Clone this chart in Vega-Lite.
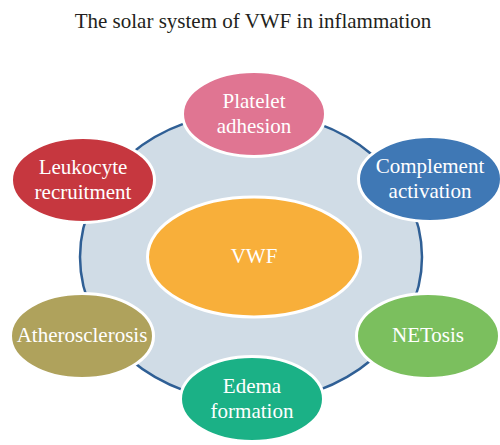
{
  "$schema": "https://vega.github.io/schema/vega-lite/v6.json",
  "width": 500,
  "height": 445,
  "autosize": {"type": "none"},
  "padding": 0,
  "background": "white",
  "config": {"view": {"stroke": null}},
  "data": {
    "values": [
      {"name": "title", "label": "The solar system of VWF in inflammation", "role": "title", "x": 253, "y": 28},
      {"name": "orbit", "label": "", "role": "orbit", "x": 251, "y": 257},
      {"name": "VWF", "label": "VWF", "role": "hub", "x": 254, "y": 257},
      {"name": "Platelet adhesion", "label": "Platelet\nadhesion", "role": "satellite", "x": 254, "y": 114},
      {"name": "Complement activation", "label": "Complement\nactivation", "role": "satellite", "x": 430, "y": 179},
      {"name": "NETosis", "label": "NETosis", "role": "satellite", "x": 428, "y": 336},
      {"name": "Edema formation", "label": "Edema\nformation", "role": "satellite", "x": 252, "y": 399},
      {"name": "Atherosclerosis", "label": "Atherosclerosis", "role": "satellite", "x": 82, "y": 336},
      {"name": "Leukocyte recruitment", "label": "Leukocyte\nrecruitment", "role": "satellite", "x": 83, "y": 180}
    ]
  },
  "encoding": {
    "x": {"field": "x", "type": "quantitative", "scale": {"domain": [0, 500], "nice": false, "zero": false}, "axis": null},
    "y": {"field": "y", "type": "quantitative", "scale": {"domain": [0, 445], "reverse": true, "nice": false, "zero": false}, "axis": null}
  },
  "layer": [
    {
      "transform": [{"filter": "datum.role === 'orbit'"}],
      "mark": {
        "type": "point",
        "shape": "M -1 0 A 1 0.848 0 1 1 1 0 A 1 0.848 0 1 1 -1 0 Z",
        "size": 116964,
        "filled": true,
        "fill": "#d0dce6",
        "stroke": "#2f5f95",
        "strokeWidth": 2.5,
        "opacity": 1,
        "fillOpacity": 1
      }
    },
    {
      "transform": [{"filter": "datum.role === 'hub'"}],
      "mark": {
        "type": "point",
        "shape": "M -1 0 A 1 0.563 0 1 1 1 0 A 1 0.563 0 1 1 -1 0 Z",
        "size": 45369,
        "filled": true,
        "stroke": "white",
        "strokeWidth": 3,
        "opacity": 1,
        "fillOpacity": 1
      },
      "encoding": {
        "color": {"field": "name", "type": "nominal", "scale": {"domain": ["VWF", "Platelet adhesion", "Complement activation", "NETosis", "Edema formation", "Atherosclerosis", "Leukocyte recruitment"], "range": ["#f8af3a", "#e07592", "#3f78b5", "#7bbf5e", "#1bb186", "#afa25c", "#c6373f"]}, "legend": null}
      }
    },
    {
      "transform": [{"filter": "datum.role === 'satellite'"}],
      "mark": {
        "type": "point",
        "shape": "M -1 0 A 1 0.594 0 1 1 1 0 A 1 0.594 0 1 1 -1 0 Z",
        "size": 20449,
        "filled": true,
        "stroke": "white",
        "strokeWidth": 3,
        "opacity": 1,
        "fillOpacity": 1
      },
      "encoding": {
        "color": {"field": "name", "type": "nominal", "scale": {"domain": ["VWF", "Platelet adhesion", "Complement activation", "NETosis", "Edema formation", "Atherosclerosis", "Leukocyte recruitment"], "range": ["#f8af3a", "#e07592", "#3f78b5", "#7bbf5e", "#1bb186", "#afa25c", "#c6373f"]}, "legend": null}
      }
    },
    {
      "transform": [{"filter": "(datum.role === 'hub' || datum.role === 'satellite') && indexof(datum.label, '\\n') < 0"}],
      "mark": {
        "type": "text",
        "font": "Liberation Serif",
        "fontSize": 21,
        "color": "white",
        "align": "center",
        "baseline": "middle"
      },
      "encoding": {
        "text": {"field": "label", "type": "nominal"}
      }
    },
    {
      "transform": [{"filter": "(datum.role === 'hub' || datum.role === 'satellite') && indexof(datum.label, '\\n') >= 0"}],
      "mark": {
        "type": "text",
        "font": "Liberation Serif",
        "fontSize": 21,
        "color": "white",
        "align": "center",
        "baseline": "middle",
        "lineBreak": "\n",
        "lineHeight": 25,
        "dy": -12.5
      },
      "encoding": {
        "text": {"field": "label", "type": "nominal"}
      }
    },
    {
      "transform": [{"filter": "datum.role === 'title'"}],
      "mark": {
        "type": "text",
        "font": "Liberation Serif",
        "fontSize": 21,
        "color": "#231f20",
        "align": "center",
        "baseline": "alphabetic"
      },
      "encoding": {
        "text": {"field": "label", "type": "nominal"}
      }
    }
  ]
}
